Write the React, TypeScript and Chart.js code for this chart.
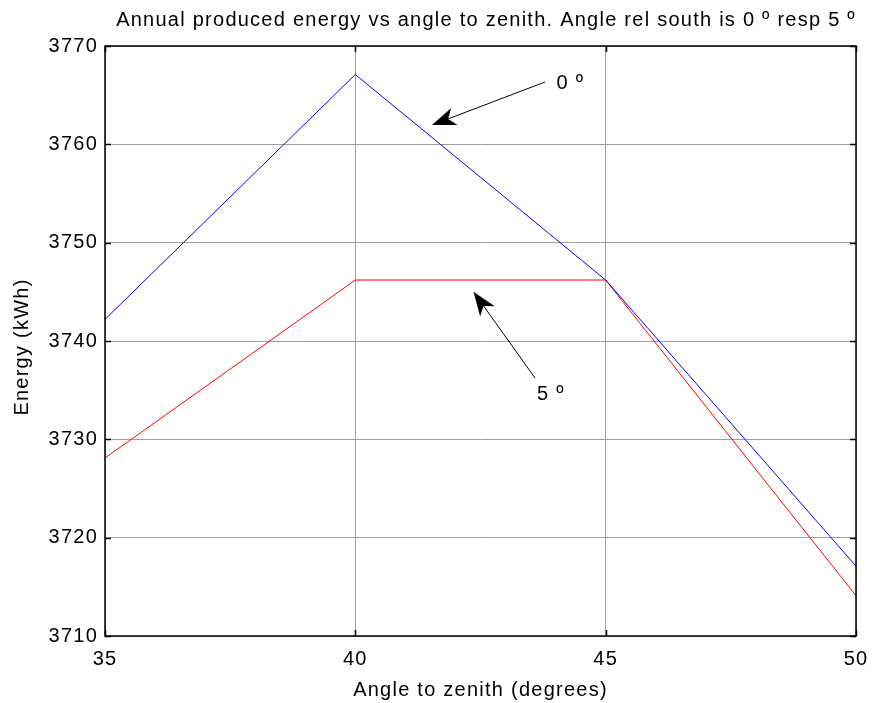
import React, { useEffect, useRef } from "react";
import { Chart, registerables } from "chart.js";

Chart.register(...registerables);

const angles = [35, 40, 45, 50];
const energySouth0 = [3742.2, 3767.1, 3746.2, 3717.1];
const energySouth5 = [3728.1, 3746.2, 3746.2, 3714.1];
const yTicks = [3710, 3720, 3730, 3740, 3750, 3760, 3770];
const xTicks = [35, 40, 45, 50];

const titleText = "Annual produced energy vs angle to zenith. Angle rel south is 0 \u00BA resp 5 \u00BA";
const xLabel = "Angle to zenith (degrees)";
const yLabel = "Energy (kWh)";

// annotations: [tailX, tailY, headX, headY, textX, textY, label]
const arrowNotes: [number, number, number, number, number, number, string][] = [
  [43.79, 3766.34, 41.53, 3761.96, 44.02, 3766.2, "0 \u00BA"],
  [43.59, 3736.23, 42.36, 3745.0, 43.63, 3734.6, "5 \u00BA"],
];

const FONT = "Arial, 'Liberation Sans', Helvetica, sans-serif";
const FS = 20;
const LS = "1.25px";

const matlabPlugin = {
  id: "matlabDecor",
  beforeDraw(chart: any) {
    (chart.ctx as any).letterSpacing = LS;
  },
  afterDatasetsDraw(chart: any) {
    const { ctx, chartArea: a, scales } = chart;
    const xs = scales.x;
    const ys = scales.y;
    ctx.save();
    ctx.strokeStyle = "#000";
    ctx.lineWidth = 1.5;
    ctx.strokeRect(a.left, a.top, a.right - a.left, a.bottom - a.top);
    const tl = 6;
    ctx.beginPath();
    for (const v of yTicks) {
      const y = Math.round(ys.getPixelForValue(v)) + 0.5;
      ctx.moveTo(a.left, y);
      ctx.lineTo(a.left + tl, y);
      ctx.moveTo(a.right, y);
      ctx.lineTo(a.right - tl, y);
    }
    for (const v of xTicks) {
      const x = Math.round(xs.getPixelForValue(v)) + 0.5;
      ctx.moveTo(x, a.bottom);
      ctx.lineTo(x, a.bottom - tl);
      ctx.moveTo(x, a.top);
      ctx.lineTo(x, a.top + tl);
    }
    ctx.stroke();

    for (const [tx, ty, hx, hy, lx, ly, label] of arrowNotes) {
      const x1 = xs.getPixelForValue(tx);
      const y1 = ys.getPixelForValue(ty);
      const x2 = xs.getPixelForValue(hx);
      const y2 = ys.getPixelForValue(hy);
      const ang = Math.atan2(y2 - y1, x2 - x1);
      const L = 24;
      const W = 9;
      const bx = x2 - L * Math.cos(ang);
      const by = y2 - L * Math.sin(ang);
      const nx = x2 - 0.72 * L * Math.cos(ang);
      const ny = y2 - 0.72 * L * Math.sin(ang);
      ctx.strokeStyle = "#000";
      ctx.lineWidth = 1;
      ctx.beginPath();
      ctx.moveTo(x1, y1);
      ctx.lineTo(nx, ny);
      ctx.stroke();
      ctx.fillStyle = "#000";
      ctx.beginPath();
      ctx.moveTo(x2, y2);
      ctx.lineTo(bx - W * Math.sin(ang), by + W * Math.cos(ang));
      ctx.lineTo(nx, ny);
      ctx.lineTo(bx + W * Math.sin(ang), by - W * Math.cos(ang));
      ctx.closePath();
      ctx.fill();
      ctx.font = `${FS}px ${FONT}`;
      ctx.textAlign = "left";
      ctx.textBaseline = "middle";
      ctx.fillText(label, xs.getPixelForValue(lx), ys.getPixelForValue(ly));
    }

    ctx.fillStyle = "#000";
    ctx.font = `${FS}px ${FONT}`;
    ctx.textAlign = "center";
    ctx.textBaseline = "middle";
    ctx.fillText(titleText, 486, 20);
    ctx.fillText(xLabel, (a.left + a.right) / 2, 690);
    ctx.save();
    ctx.translate(22, (a.top + a.bottom) / 2 + 6);
    ctx.rotate(-Math.PI / 2);
    ctx.fillText(yLabel, 0, 0);
    ctx.restore();
    ctx.restore();
  },
};

export default function App() {
  const ref = useRef<HTMLCanvasElement | null>(null);
  useEffect(() => {
    if (!ref.current) return;
    const chart = new Chart(ref.current, {
      type: "line",
      data: {
        datasets: [
          {
            label: "0",
            data: angles.map((a, i) => ({ x: a, y: energySouth0[i] })),
            borderColor: "#0000ff",
            borderWidth: 1,
            pointRadius: 0,
            tension: 0,
          },
          {
            label: "5",
            data: angles.map((a, i) => ({ x: a, y: energySouth5[i] })),
            borderColor: "#ff0000",
            borderWidth: 1,
            pointRadius: 0,
            tension: 0,
          },
        ],
      },
      options: {
        responsive: false,
        animation: false,
        devicePixelRatio: 1,
        layout: { padding: { left: 0, right: 17, top: 46, bottom: 0 } },
        plugins: { legend: { display: false }, tooltip: { enabled: false }, title: { display: false } },
        scales: {
          x: {
            type: "linear",
            min: 35,
            max: 50,
            afterBuildTicks: (s: any) => {
              s.ticks = xTicks.map((v) => ({ value: v }));
            },
            afterFit: (s: any) => {
              s.height = 67;
              s.paddingLeft = 0;
              s.paddingRight = 0;
            },
            border: { display: false },
            grid: { color: "#a0a0a0", lineWidth: 1, drawTicks: false },
            ticks: { color: "#000", font: { family: FONT, size: FS }, padding: 11, maxRotation: 0, autoSkip: false },
          },
          y: {
            type: "linear",
            min: 3710,
            max: 3770,
            afterBuildTicks: (s: any) => {
              s.ticks = yTicks.map((v) => ({ value: v }));
            },
            afterFit: (s: any) => {
              s.width = 105;
              s.paddingTop = 0;
              s.paddingBottom = 0;
            },
            border: { display: false },
            grid: { color: "#a0a0a0", lineWidth: 1, drawTicks: false },
            ticks: { color: "#000", font: { family: FONT, size: FS }, padding: 7, autoSkip: false, callback: (v: any) => String(v) },
          },
        },
      },
      plugins: [matlabPlugin],
    });
    return () => chart.destroy();
  }, []);
  return (
    <div style={{ position: "absolute", left: 0, top: 0, width: 873, height: 703, background: "#fff" }}>
      <canvas ref={ref} width={873} height={703} />
    </div>
  );
}
